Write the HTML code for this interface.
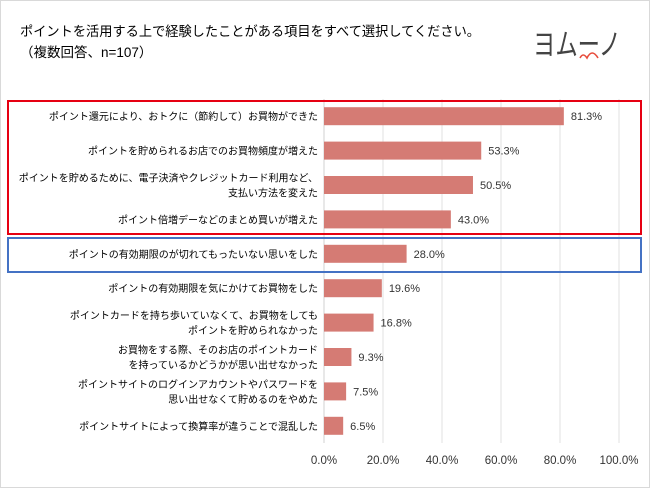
<!DOCTYPE html>
<html><head><meta charset="utf-8"><style>
html,body{margin:0;padding:0;background:#fff}
body{width:650px;height:488px;overflow:hidden;font-family:"Liberation Sans","Noto Sans CJK JP",sans-serif}
</style></head><body>
<svg id="chart" width="650" height="488" xmlns="http://www.w3.org/2000/svg" font-family="Liberation Sans, Noto Sans CJK JP, sans-serif">
<rect x="0.5" y="0.5" width="649" height="487" fill="#fff" stroke="#d9d9d9"/>
<text x="20" y="36" font-size="13.5" fill="#000" textLength="460" lengthAdjust="spacingAndGlyphs">ポイントを活用する上で経験したことがある項目をすべて選択してください。</text>
<text x="20" y="57" font-size="13.5" fill="#000">（複数回答、n=107）</text>
<g>
<text x="533" y="55" font-size="30" fill="#444" textLength="88" lengthAdjust="spacingAndGlyphs">ヨムーノ</text>
<path d="M580 58 q3 -6 7 0 q5 -10 11 0" fill="none" stroke="#e74c3c" stroke-width="1.6"/>
</g>
<g id="grid"></g>
<g id="bars"></g>
<g id="labels"></g>
<g id="xticks"></g>
<rect x="8" y="101" width="633" height="133" fill="none" stroke="#e60012" stroke-width="2"/>
<rect x="8" y="238" width="633" height="34" fill="none" stroke="#4472c4" stroke-width="2"/>
</svg>
<script>
const categories=[
["ポイント還元により、おトクに（節約して）お買物ができた"],
["ポイントを貯められるお店でのお買物頻度が増えた"],
["ポイントを貯めるために、電子決済やクレジットカード利用など、","支払い方法を変えた"],
["ポイント倍増デーなどのまとめ買いが増えた"],
["ポイントの有効期限のが切れてもったいない思いをした"],
["ポイントの有効期限を気にかけてお買物をした"],
["ポイントカードを持ち歩いていなくて、お買物をしても","ポイントを貯められなかった"],
["お買物をする際、そのお店のポイントカード","を持っているかどうかが思い出せなかった"],
["ポイントサイトのログインアカウントやパスワードを","思い出せなくて貯めるのをやめた"],
["ポイントサイトによって換算率が違うことで混乱した"]
];
const values=[81.3,53.3,50.5,43.0,28.0,19.6,16.8,9.3,7.5,6.5];
const ticks=[0,20,40,60,80,100];
const NS="http://www.w3.org/2000/svg";
const x0=324,x1=619,yTop=99,yBot=443;
const xs=v=>x0+(x1-x0)*v/100;
const band=(yBot-yTop)/categories.length;
const yc=i=>yTop+band*(i+0.5);
function mk(t,a,p){const e=document.createElementNS(NS,t);for(const k in a)e.setAttribute(k,a[k]);p.appendChild(e);return e;}
const grid=document.getElementById('grid');
ticks.forEach(t=>{
 const l=mk('line',{x1:xs(t),x2:xs(t),y1:yTop,y2:yBot,stroke:'#e0e0e0','stroke-width':1},grid);
 
 
 const tx=mk('text',{x:xs(t),y:464,'font-size':11.5,'text-anchor':'middle',fill:'#333'},document.getElementById('xticks'));
 tx.textContent=t.toFixed(1)+'%';
 
 
});
const bars=document.getElementById('bars'),labels=document.getElementById('labels');
values.forEach((v,i)=>{
 const y=yc(i);
 const r=mk('rect',{x:x0,y:y-9,width:xs(v)-x0,height:18,fill:'#d57b74'},bars);
 
 
 const vt=mk('text',{x:xs(v)+7,y:y+4,'font-size':11,fill:'#333'},bars);
 vt.textContent=v.toFixed(1)+'%';
 
 
 const lines=categories[i];
 lines.forEach((s,j)=>{
  const ly=y+4+(j-(lines.length-1)/2)*15;
  const t=mk('text',{x:318,y:ly,'font-size':10,'text-anchor':'end',fill:'#000'},labels);
  t.textContent=s;
  
  
 });
});
mk('line',{x1:x0,x2:x0,y1:yTop,y2:yBot,stroke:'#d0d0d0'},grid);
</script>
</body></html>
